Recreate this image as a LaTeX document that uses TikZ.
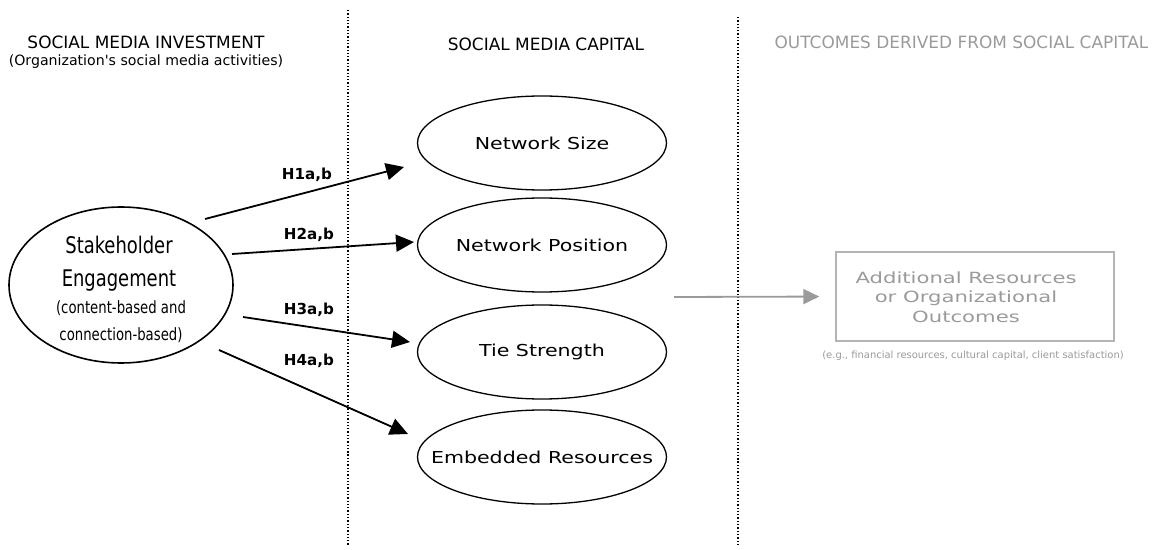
\documentclass[tikz,border=0pt]{standalone}
\usepackage{fontspec}
\setmainfont{DejaVu Sans}
\newfontfamily\plainfont[Ligatures=TeXOff]{DejaVu Sans}
\newfontfamily\narrowfont[FakeStretch=0.87]{DejaVu Sans Condensed}
\newfontfamily\widefont[FakeStretch=1.25]{DejaVu Sans}
\newfontfamily\boxfont[FakeStretch=1.37]{DejaVu Sans}
\usetikzlibrary{arrows.meta,shapes.geometric}
\definecolor{fadegray}{HTML}{9A9A9A}
\definecolor{boxgray}{HTML}{B4B4B4}
\tikzset{
  heading/.style={font=\fontsize{17}{19}\selectfont, align=center},
  capshape/.style={ellipse, draw, line width=1.3bp, inner sep=0pt, minimum width=249bp, minimum height=94bp},
  captext/.style={font=\widefont\fontsize{16.5}{18}\selectfont},
  hyparrow/.style={line width=1.8bp, -{Triangle[length=18bp,width=17bp]}},
  hyplabel/.style={font=\bfseries\fontsize{15.2}{17}\selectfont},
  divider/.style={line width=1.3bp, dotted},
}
\begin{document}
\begin{tikzpicture}[x=1bp,y=-1bp]
\useasboundingbox (0,0) rectangle (1153,550);

% column dividers
\coordinate (d1t) at (348,10);
\coordinate (d1b) at (348,546);
\coordinate (d2t) at (738,17);
\coordinate (d2b) at (738,546);
\draw[divider] (d1t) -- (d1b);
\draw[divider] (d2t) -- (d2b);

% column headings
\node[heading] (hinv) at (146,42) {SOCIAL MEDIA INVESTMENT};
\node[font=\plainfont\fontsize{14.2}{16}\selectfont] (hinvsub) at (146,62) {(Organization's social media activities)};
\node[heading] (hcap) at (546,44) {SOCIAL MEDIA CAPITAL};
\node[heading, text=fadegray] (hout) at (961.5,42) {OUTCOMES DERIVED FROM SOCIAL CAPITAL};

% stakeholder engagement
\node[ellipse, draw, line width=1.6bp, minimum width=224bp, minimum height=156bp] (se) at (121,285) {};
\node[font=\narrowfont\fontsize{23}{33}\selectfont, align=center] (setitle) at (119,264) {Stakeholder\\Engagement};
\node[font=\narrowfont\fontsize{17}{27}\selectfont, align=center] (sesub) at (121,322) {(content-based and\\connection-based)};

% social media capital dimensions
\node[capshape] (ns) at (542,143) {};
\node[capshape] (np) at (542,245) {};
\node[capshape] (ts) at (542,352) {};
\node[capshape] (er) at (542,457) {};
\node[captext] (nstxt) at (ns.center) {Network Size};
\node[captext] (nptxt) at (np.center) {Network Position};
\node[captext] (tstxt) at (ts.center) {Tie Strength};
\node[captext] (ertxt) at (er.center) {Embedded Resources};

% hypothesised paths: loose ends in front of each ellipse
\coordinate (s1) at (205,219);
\coordinate (t1) at (404,167);
\coordinate (s2) at (232,254);
\coordinate (t2) at (414,242);
\coordinate (s3) at (243,317);
\coordinate (t3) at (410,342);
\coordinate (s4) at (219,350);
\coordinate (t4) at (408,434);
\draw[hyparrow] (s1) -- (t1);
\draw[hyparrow] (s2) -- (t2);
\draw[hyparrow] (s3) -- (t3);
\draw[hyparrow] (s4) -- (t4);
\node[hyplabel] (l1) at (307,175) {H1a,b};
\node[hyplabel] (l2) at (309,235) {H2a,b};
\node[hyplabel] (l3) at (309,310) {H3a,b};
\node[hyplabel] (l4) at (309,361) {H4a,b};

% outcomes
\node[draw=boxgray, line width=1.4bp, minimum width=278bp, minimum height=89bp] (out) at (975,296.5) {};
\node[text=fadegray, font=\boxfont\fontsize{15.5}{19.5}\selectfont, align=center] (outtxt) at (966,297) {Additional Resources\\or Organizational\\Outcomes};
\node[text=fadegray, font=\fontsize{10}{12}\selectfont] (outnote) at (973,356) {(e.g., financial resources, cultural capital, client satisfaction)};
\coordinate (gs) at (674,297);
\draw[draw=fadegray, fill=fadegray, line width=1.8bp, shorten >=16bp, -{Triangle[length=16bp,width=15bp]}] (gs) -- (out.west);
\end{tikzpicture}
\end{document}
